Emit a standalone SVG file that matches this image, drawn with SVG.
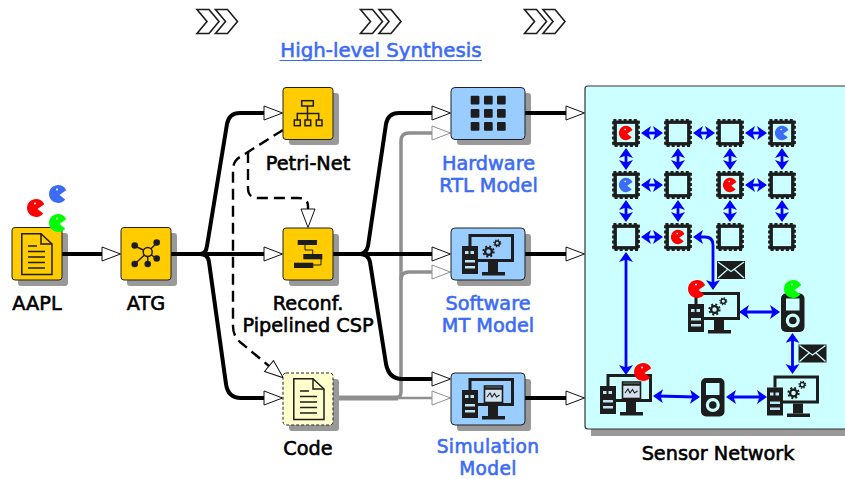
<svg xmlns="http://www.w3.org/2000/svg" width="845" height="479" viewBox="0 0 845 479">
<style>
text{font-family:"DejaVu Sans","Liberation Sans",sans-serif;font-size:19.300px;font-weight:400;text-anchor:middle;stroke-width:.6px}
.k{fill:#000;stroke:#000}
.b{fill:#3c6cf5;stroke:#3c6cf5}
.s{font-size:18.600px;letter-spacing:.35px}
.sh{fill:#999}
.o{fill:#ffcc00;stroke:#222;stroke-width:1}
.l{fill:#99ccff;stroke:#222;stroke-width:1}
.bl{fill:none;stroke:#000;stroke-width:4;stroke-linejoin:round}
.gr{fill:none;stroke:#8f8f8f;stroke-width:3.500}
.da{fill:none;stroke:#000;stroke-width:2.400;stroke-dasharray:11 6}
.ar{fill:none;stroke:#0000ff;stroke-width:2.800;marker-start:url(#bh);marker-end:url(#bh)}
.ic{fill:none;stroke:#1d1d1d;stroke-width:1.500}
.d{fill:#1d1d1d}
.c{fill:none;stroke:#1d1d1d;stroke-width:3.400}
.cd{fill:none;stroke:#1d1d1d;stroke-width:2.600;stroke-dasharray:3 2.100}
</style>
<defs>
<marker id="w" markerUnits="userSpaceOnUse" markerWidth="22" markerHeight="18" refX="1" refY="8" orient="auto"><path d="M1 1L19.500 8L1 15Z" fill="#fff" stroke="#111" stroke-width="1"/></marker>
<marker id="g" markerUnits="userSpaceOnUse" markerWidth="22" markerHeight="18" refX="1" refY="8" orient="auto"><path d="M1 1L19.500 8L1 15Z" fill="#fff" stroke="#8f8f8f" stroke-width="1"/></marker>
<marker id="bh" markerUnits="userSpaceOnUse" markerWidth="14" markerHeight="16" refX="6" refY="7" orient="auto-start-reverse"><path d="M0 0L10 7L0 14L2.500 7Z" fill="#0000ff"/></marker>
<symbol id="pac" viewBox="-10 -10 20 20" overflow="visible"><path d="M8.200-3.800A9 9 0 1 0 7.200 5.400L1.500 1Z"/><circle cx="-1" cy="-4.400" r="1" fill="#fff"/></symbol>
<symbol id="doc" viewBox="0 0 32 43" overflow="visible"><path d="M.8.800H20L31 11V41.500H.8Z" fill="none" stroke="#1d1d1d" stroke-width="1.500"/><path d="M20 .8V11H31" fill="none" stroke="#1d1d1d" stroke-width="1.500"/><path d="M7 13H16M7 18.500H24M7 24H24M7 29.500H24M7 35H24" stroke="#1d1d1d" stroke-width="1.500" fill="none"/></symbol>
<g id="tower"><rect x="0" y="12" width="16" height="28" class="d"/><rect x="3" y="17" width="3.500" height="3" fill="#bfe4f5"/><rect x="8.500" y="17" width="3.500" height="3" fill="#bfe4f5"/><rect x="3" y="26" width="10" height="2.500" fill="#bfe4f5"/><rect x="3" y="32" width="10" height="2.500" fill="#bfe4f5"/></g>
<g id="mon"><path d="M8 12V1.500H50.500V26.500H16" fill="none" stroke="#1d1d1d" stroke-width="3"/><rect x="26" y="28" width="10" height="10" class="d"/><rect x="20" y="38" width="23" height="3.500" class="d"/></g>
<g id="gear"><circle r="3.400" fill="none" stroke="#1d1d1d" stroke-width="2.300"/><circle r="5.200" fill="none" stroke="#1d1d1d" stroke-width="1.900" stroke-dasharray="2 2.100"/></g>
<g id="wsg"><use href="#mon"/><use href="#tower"/><use href="#gear" x="26.500" y="17.500"/><use href="#gear" transform="translate(35.300 9.300) scale(.65)"/></g>
<g id="wss"><use href="#mon"/><use href="#tower"/><rect x="22.500" y="8" width="18" height="16.500" fill="#d4e2ee" stroke="#1d1d1d" stroke-width="1.600"/><path d="M22.500 10.500H40.500" stroke="#1d1d1d" stroke-width="2.500"/><path d="M25 19L28 15L30 19L32.500 15.500L34.500 19L37.500 17" fill="none" stroke="#1d1d1d" stroke-width="1.100"/></g>
<g id="ipod"><rect width="23.500" height="38.500" rx="5" class="d"/><rect x="5" y="5" width="13.500" height="12" fill="#ccffff"/><circle cx="11.800" cy="27" r="7" fill="#ccffff"/><circle cx="11.800" cy="27" r="3.800" class="d"/></g>
<g id="mail"><rect width="28" height="18" class="d"/><path d="M1 1L14 10.500L27 1M1 17L10.500 8.500M27 17L17.500 8.500" fill="none" stroke="#ccffff" stroke-width="1.300"/></g>
<g id="chip"><rect x="-10.800" y="-10.800" width="21.600" height="21.600" class="c"/><rect x="-12.600" y="-12.600" width="25.200" height="25.200" class="cd"/></g>
<polygon id="chev" points="0,0 12,0 22,12 12,24 0,24 10,12" fill="#fff" stroke="#1d1d1d" stroke-width="1.600"/>
</defs>
<rect width="845" height="479" fill="#fff"/>

<g id="chevrons">
<use href="#chev" x="197" y="9.500"/><use href="#chev" x="215.500" y="9.500"/>
<use href="#chev" x="360.500" y="9.500"/><use href="#chev" x="379" y="9.500"/>
<use href="#chev" x="524.500" y="9.500"/><use href="#chev" x="543" y="9.500"/>
</g>
<g id="title"><text x="381" y="57" class="b" style="font-size:19.800px">High-level Synthesis</text><path d="M279.500 60.500H482" stroke="#3c6cf5" stroke-width="1.200"/></g>

<g id="panel"><rect x="591" y="92" width="270" height="344" class="sh"/><rect x="585" y="86" width="270" height="343" rx="3" fill="#ccffff" stroke="#333" stroke-width="1.200"/></g>

<g id="shadows">
<rect x="18" y="233" width="50" height="53" rx="3" class="sh"/>
<rect x="127" y="233" width="50" height="53" rx="3" class="sh"/>
<rect x="289" y="93" width="50" height="52" rx="3" class="sh"/>
<rect x="289" y="234" width="50" height="52" rx="3" class="sh"/>
<rect x="289" y="379" width="50" height="52" rx="3" class="sh"/>
<rect x="457" y="93" width="74" height="52" rx="3" class="sh"/>
<rect x="457" y="234" width="74" height="52" rx="3" class="sh"/>
<rect x="457" y="379" width="74" height="52" rx="3" class="sh"/>
</g>

<g id="connectors">
<path class="gr" d="M339 398H395Q401 398 401 392V141Q401 133 409 133H432" marker-end="url(#g)"/>
<path class="gr" d="M401 280Q401 272 409 272H432" marker-end="url(#g)"/>
<path class="gr" style="stroke-width:5" d="M339 398H398"/>
<path class="gr" style="stroke-width:2.500" d="M398 398H432" marker-end="url(#g)"/>
<path class="bl" d="M62 254H102" marker-end="url(#w)"/>
<path class="bl" d="M171 254H200Q206 254 207 246L227 124Q229 113 240 113H264" marker-end="url(#w)"/>
<path class="bl" d="M171 254H264" marker-end="url(#w)"/>
<path class="bl" d="M200 254Q208 254 209 262L226 384Q228 398 241 398H264" marker-end="url(#w)"/>
<path class="bl" d="M333 254H432" marker-end="url(#w)"/>
<path class="bl" d="M360 254Q366 254 368 246L386 124Q388 113 399 113H432" marker-end="url(#w)"/>
<path class="bl" d="M360 254Q368 254 370 262L386 364Q389 379 402 379H432" marker-end="url(#w)"/>
<path class="bl" d="M525 113H566" marker-end="url(#w)"/>
<path class="bl" d="M525 254H566" marker-end="url(#w)"/>
<path class="bl" d="M525 398H566" marker-end="url(#w)"/>
<path class="da" d="M283 130L240 157Q233 161 233 170V326Q233 336 240 342L269 366" marker-end="url(#w)"/>
<path class="da" d="M248 152V188Q248 198 258 198H298Q308 198 308 206V209" marker-end="url(#w)"/>
<path class="ar" d="M645 133H659"/><path class="ar" d="M697 133H711"/><path class="ar" d="M749 133H763"/><path class="ar" d="M645 185H659"/><path class="ar" d="M749 185H763"/><path class="ar" d="M645 237H659"/>
<path class="ar" d="M626 152V166"/><path class="ar" d="M678 152V166"/><path class="ar" d="M730 152V166"/><path class="ar" d="M782 152V166"/>
<path class="ar" d="M626 204V218"/><path class="ar" d="M678 204V218"/><path class="ar" d="M730 204V218"/><path class="ar" d="M782 204V218"/>
<path class="ar" d="M626 256V371"/>
<path class="ar" d="M697 237H705Q713 237 713 245V286"/>
<path class="ar" d="M743 312H776"/>
<path class="ar" d="M792.500 337V370"/>
<path class="ar" d="M657 396L696 397"/>
<path class="ar" d="M730 397H763"/>
</g>

<g id="aapl"><rect x="12" y="227.500" width="50" height="52.500" rx="3" class="o"/><use href="#doc" x="21" y="233" width="32" height="43"/><use href="#pac" x="26" y="198" width="20" height="20" fill="#ff0000"/><use href="#pac" x="48" y="184" width="20" height="20" fill="#3c6cf5"/><use href="#pac" x="48" y="213" width="20" height="20" fill="#00ff00"/><text x="37" y="310" class="k">AAPL</text></g>

<g id="atg"><rect x="121" y="227.500" width="50" height="52.500" rx="3" class="o"/><g transform="translate(147.700 252)"><path d="M0 0L-13-6M0 0L9-9M0 0L9 7M0 0V12M0 0L-13 12" stroke="#1d1d1d" stroke-width="1.400"/><circle r="4.500" fill="#ffcc00" stroke="#1d1d1d" stroke-width="1.500"/><g class="d"><circle cx="-13" cy="-6.500" r="3.300"/><circle cx="9" cy="-9.500" r="3.300"/><circle cx="9" cy="6.500" r="3.300"/><circle cy="12" r="3.300"/><circle cx="-13" cy="12" r="3.300"/></g></g><text x="146" y="310" class="k">ATG</text></g>

<g id="petri"><rect x="283" y="87.500" width="50" height="52" rx="3" class="o"/><g class="ic"><rect x="301.700" y="100.700" width="11.600" height="5.300"/><path d="M307.500 106V120M297.300 120V113.500H318.700V120"/><rect x="294.300" y="120" width="6" height="5.700"/><rect x="305" y="120" width="5.700" height="5.700"/><rect x="316.300" y="120" width="5.700" height="5.700"/></g><text x="308" y="170" class="k">Petri-Net</text></g>

<g id="reconf"><rect x="283" y="228" width="50" height="52" rx="3" class="o"/><rect x="297.700" y="240" width="19.300" height="5" class="d"/><rect x="303.300" y="254" width="19" height="5.300" class="d"/><rect x="294" y="262.700" width="19.300" height="5.300" class="d"/><path d="M305 245V250H312.700V254M321 259V265H313" fill="none" stroke="#1d1d1d" stroke-width="1"/><text x="308" y="310" class="k">Reconf.</text><text x="308" y="332" class="k">Pipelined CSP</text></g>

<g id="code"><rect x="283" y="373" width="50" height="52" rx="3" fill="#ffffcc" stroke="#222" stroke-dasharray="3 2"/><use href="#doc" x="293" y="378" width="32" height="43"/><text x="308" y="455" class="k">Code</text></g>

<g id="hardware"><rect x="451" y="87.500" width="74" height="52" rx="4" class="l"/><g class="d"><rect x="470.700" y="95.700" width="8.700" height="8.700" rx="1"/><rect x="484" y="95.700" width="8.700" height="8.700" rx="1"/><rect x="497" y="95.700" width="8.700" height="8.700" rx="1"/><rect x="470.700" y="109" width="8.700" height="8.700" rx="1"/><rect x="484" y="109" width="8.700" height="8.700" rx="1"/><rect x="497" y="109" width="8.700" height="8.700" rx="1"/><rect x="470.700" y="122" width="8.700" height="8.700" rx="1"/><rect x="484" y="122" width="8.700" height="8.700" rx="1"/><rect x="497" y="122" width="8.700" height="8.700" rx="1"/></g><text x="488.500" y="170" class="b">Hardware</text><text x="488.500" y="192" class="b">RTL Model</text></g>

<g id="software"><rect x="451" y="228" width="74" height="52" rx="4" class="l"/><use href="#wsg" x="462" y="234"/><text x="488" y="310" class="b">Software</text><text x="488" y="332" class="b">MT Model</text></g>

<g id="simulation"><rect x="451" y="373" width="74" height="52" rx="4" class="l"/><use href="#wss" x="462" y="378"/><text x="488" y="452.500" class="b s">Simulation</text><text x="488" y="474.500" class="b s">Model</text></g>

<g id="sensor-network">
<use href="#chip" x="626" y="133"/><use href="#chip" x="678" y="133"/><use href="#chip" x="730" y="133"/><use href="#chip" x="782" y="133"/>
<use href="#chip" x="626" y="185"/><use href="#chip" x="678" y="185"/><use href="#chip" x="730" y="185"/><use href="#chip" x="782" y="185"/>
<use href="#chip" x="626" y="237"/><use href="#chip" x="678" y="237"/><use href="#chip" x="730" y="237"/><use href="#chip" x="782" y="237"/>
<use href="#pac" x="618" y="125" width="16" height="16" fill="#ff0000"/><use href="#pac" x="774" y="125" width="16" height="16" fill="#3c6cf5"/><use href="#pac" x="618" y="177" width="16" height="16" fill="#3c6cf5"/><use href="#pac" x="722" y="177" width="16" height="16" fill="#ff0000"/><use href="#pac" x="670" y="229" width="16" height="16" fill="#ff0000"/>
<use href="#mail" x="717" y="261"/><use href="#mail" x="798.500" y="344.500"/>
<use href="#wsg" x="688" y="292"/><use href="#wsg" x="767" y="375.500"/><use href="#wss" x="600" y="374"/>
<use href="#ipod" x="781" y="293.500"/><use href="#ipod" x="701" y="378"/>
<use href="#pac" x="687" y="279" width="20" height="20" fill="#ff0000"/><use href="#pac" x="783" y="279" width="20" height="20" fill="#00ff00"/><use href="#pac" x="633" y="362" width="20" height="20" fill="#ff0000"/>
<text x="718" y="460" class="k">Sensor Network</text>
</g>
</svg>
